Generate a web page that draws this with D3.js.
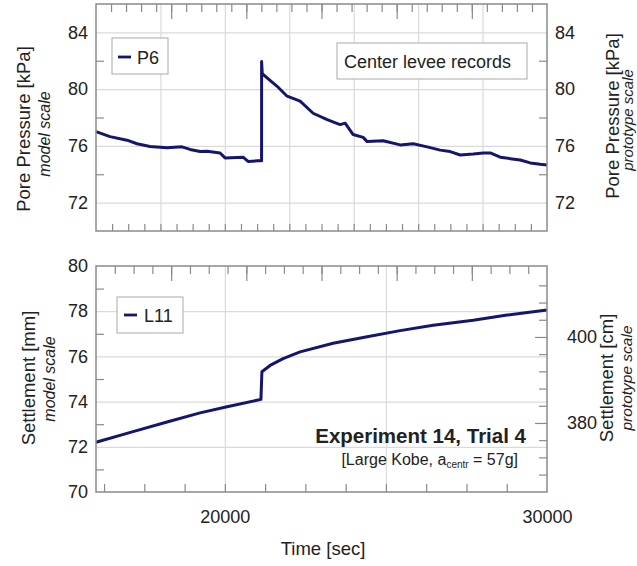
<!DOCTYPE html>
<html>
<head>
<meta charset="utf-8">
<script src="https://cdn.jsdelivr.net/npm/d3@7"></script>
<style>
  body { margin: 0; background: white; }
  text { font-family: "Liberation Sans", Arial, sans-serif; fill: #222; }
</style>
</head>
<body>
<svg id="vis"></svg>
<script>
// data
const P6_TIME = [16000, 16435, 16963, 17273, 17677, 18205, 18671, 18920, 19230, 19448, 19851, 20007,
    20566, 20721, 21032, 21140, 21141, 21160, 21311, 21622, 21933, 22336, 22740, 23175, 23578,
    23734, 23982, 24293, 24417, 24914, 25442, 25846, 26281, 26685, 26995, 27306, 27710, 28020,
    28238, 28548, 28859, 29169, 29480, 29790, 30000]
const P6_KPA = [77.0, 76.65, 76.4, 76.15, 75.95, 75.87, 75.93, 75.75, 75.6, 75.62, 75.5, 75.15,
    75.2, 74.9, 74.95, 74.95, 81.95, 81.1, 80.8, 80.2, 79.5, 79.15, 78.3, 77.85, 77.5,
    77.6, 76.8, 76.6, 76.3, 76.36, 76.07, 76.15, 75.93, 75.7, 75.6, 75.36, 75.43, 75.5,
    75.5, 75.2, 75.1, 75.0, 74.8, 74.7, 74.65]

const L11_TIME = [16000, 17150, 18205, 19230, 20069, 21120, 21150, 21404, 21808, 22336, 23361,
    24417, 25442, 26467, 27710, 28766, 30000]
const L11_MM = [72.2, 72.67, 73.1, 73.5, 73.77, 74.1, 75.32, 75.6, 75.9, 76.2, 76.58,
    76.87, 77.14, 77.38, 77.6, 77.83, 78.05]

const PORE_TICKS = [72, 76, 80, 84]
const PORE_MINOR = [74, 78, 82]
const SETTLE_TICKS = [70, 72, 74, 76, 78, 80]
const SETTLE_MINOR = [71, 73, 75, 77, 79]
const PROTO_TICKS = [380, 400]
const PROTO_MINOR = [368, 372, 376, 384, 388, 392, 396, 404, 408, 412]
const TIME_LABELS = [20000, 30000]

// layout
const W = 637
const H = 566
const LEFT = 96
const RIGHT = 547
const TOP1 = 4, BOT1 = 231
const TOP2 = 266, BOT2 = 492
const FRAME = '#8a8a8a'
const GRID = '#dadada'
const LINE = '#15156e'

var svg = d3.select('#vis')
    .attr('width', W)
    .attr('height', H)

var x = d3.scaleLinear().domain([16000, 30000]).range([LEFT, RIGHT])
// secondary time axis on top edges (ticks only)
var xTop = d3.scaleLinear().domain([0, 30]).range([LEFT, RIGHT])

var yPore = d3.scaleLinear().domain([70, 86]).range([BOT1, TOP1])
var ySettle = d3.scaleLinear().domain([70, 80]).range([BOT2, TOP2])
var yProto = d3.scaleLinear().domain([363.95, 416.5]).range([BOT2, TOP2])

// draw an axis group and style it
function drawAxis(axis, tx, ty, color) {
    var g = svg.append('g')
        .attr('transform', `translate(${tx},${ty})`)
        .call(axis)
    g.select('.domain').remove()
    g.selectAll('line').attr('stroke', color || FRAME).attr('stroke-width', 1.2)
    g.selectAll('text')
        .style('font-family', '"Liberation Sans", Arial, sans-serif')
        .style('font-size', '18px')
        .attr('fill', '#222')
    return g
}

// ---------- top panel ----------
drawAxis(d3.axisLeft(yPore).tickValues(PORE_TICKS).tickSize(-(RIGHT - LEFT)).tickFormat(''), LEFT, 0, GRID)
drawAxis(d3.axisBottom(x).tickValues(d3.range(18000, 30000, 2000)).tickSize(-(BOT1 - TOP1)).tickFormat(''), 0, BOT1, GRID)

drawAxis(d3.axisLeft(yPore).tickValues(PORE_MINOR).tickSize(-8).tickFormat(''), LEFT, 0)
drawAxis(d3.axisRight(yPore).tickValues(PORE_MINOR).tickSize(-8).tickFormat(''), RIGHT, 0)
drawAxis(d3.axisLeft(yPore).tickValues(PORE_TICKS).tickSize(0).tickPadding(8).tickFormat(d3.format('d')), LEFT, 0)
drawAxis(d3.axisRight(yPore).tickValues(PORE_TICKS).tickSize(0).tickPadding(8).tickFormat(d3.format('d')), RIGHT, 0)

drawAxis(d3.axisTop(xTop).tickValues(d3.range(1, 30, 1)).tickSize(-8).tickFormat(''), 0, TOP1)
drawAxis(d3.axisTop(xTop).tickValues(d3.range(5, 30, 5)).tickSize(-15).tickFormat(''), 0, TOP1)
drawAxis(d3.axisBottom(x).tickValues(d3.range(16500, 30000, 500)).tickSize(-7).tickFormat(''), 0, BOT1)

svg.append('path')
    .datum(P6_TIME.map((t, i) => [t, P6_KPA[i]]))
    .attr('fill', 'none')
    .attr('stroke', LINE)
    .attr('stroke-width', 3)
    .attr('stroke-linejoin', 'round')
    .attr('d', d3.line().x(d => x(d[0])).y(d => yPore(d[1])))

svg.append('rect')
    .attr('x', LEFT).attr('y', TOP1)
    .attr('width', RIGHT - LEFT).attr('height', BOT1 - TOP1)
    .attr('fill', 'none').attr('stroke', FRAME).attr('stroke-width', 1.5)

// legend P6
svg.append('rect').attr('x', 112).attr('y', 38).attr('width', 56).attr('height', 36)
    .attr('fill', 'white').attr('stroke', '#aaa')
svg.append('line').attr('x1', 118).attr('x2', 131).attr('y1', 57).attr('y2', 57)
    .attr('stroke', LINE).attr('stroke-width', 2.8)
svg.append('text').attr('x', 137).attr('y', 63.5).style('font-size', '18px').text('P6')

// title box
svg.append('rect').attr('x', 337).attr('y', 43).attr('width', 190).attr('height', 36)
    .attr('fill', 'white').attr('stroke', '#aaa')
svg.append('text').attr('x', 344).attr('y', 68).style('font-size', '18px').text('Center levee records')

// ---------- bottom panel ----------
drawAxis(d3.axisLeft(ySettle).tickValues([72, 74, 76, 78]).tickSize(-(RIGHT - LEFT)).tickFormat(''), LEFT, 0, GRID)
drawAxis(d3.axisBottom(x).tickValues([20000, 25000]).tickSize(-(BOT2 - TOP2)).tickFormat(''), 0, BOT2, GRID)

drawAxis(d3.axisLeft(ySettle).tickValues(SETTLE_MINOR).tickSize(-8).tickFormat(''), LEFT, 0)
drawAxis(d3.axisLeft(ySettle).tickValues(SETTLE_TICKS).tickSize(0).tickPadding(8).tickFormat(d3.format('d')), LEFT, 0)
drawAxis(d3.axisRight(yProto).tickValues(PROTO_MINOR).tickSize(-8).tickFormat(''), RIGHT, 0)
drawAxis(d3.axisRight(yProto).tickValues(PROTO_TICKS).tickSize(-12).tickPadding(20).tickFormat(d3.format('d')), RIGHT, 0)

drawAxis(d3.axisTop(xTop).tickValues(d3.range(1.25, 30, 1.25)).tickSize(-8).tickFormat(''), 0, TOP2)
drawAxis(d3.axisTop(xTop).tickValues(d3.range(5, 30, 5)).tickSize(-15).tickFormat(''), 0, TOP2)
drawAxis(d3.axisBottom(x).tickValues(d3.range(16250, 30000, 1250)).tickSize(-8).tickFormat(''), 0, BOT2)
drawAxis(d3.axisBottom(x).tickValues(TIME_LABELS).tickSize(0).tickPadding(18).tickFormat(d3.format('d')), 0, BOT2)

svg.append('path')
    .datum(L11_TIME.map((t, i) => [t, L11_MM[i]]))
    .attr('fill', 'none')
    .attr('stroke', LINE)
    .attr('stroke-width', 3)
    .attr('stroke-linejoin', 'round')
    .attr('d', d3.line().x(d => x(d[0])).y(d => ySettle(d[1])))

svg.append('rect')
    .attr('x', LEFT).attr('y', TOP2)
    .attr('width', RIGHT - LEFT).attr('height', BOT2 - TOP2)
    .attr('fill', 'none').attr('stroke', FRAME).attr('stroke-width', 1.5)

// legend L11
svg.append('rect').attr('x', 117).attr('y', 297).attr('width', 66).attr('height', 36)
    .attr('fill', 'white').attr('stroke', '#aaa')
svg.append('line').attr('x1', 124).attr('x2', 137).attr('y1', 315).attr('y2', 315)
    .attr('stroke', LINE).attr('stroke-width', 2.8)
svg.append('text').attr('x', 144).attr('y', 321.5).style('font-size', '18px').text('L11')

// experiment annotation
svg.append('text').attr('x', 526).attr('y', 443).attr('text-anchor', 'end')
    .style('font-size', '20.5px').style('font-weight', 'bold').attr('fill', '#111')
    .text('Experiment 14, Trial 4')
var sub = svg.append('text').attr('x', 518).attr('y', 465).attr('text-anchor', 'end')
    .style('font-size', '16px')
sub.append('tspan').text('[Large Kobe, a')
sub.append('tspan').attr('dy', 3).style('font-size', '10px').text('centr')
sub.append('tspan').attr('dy', -3).text(' = 57g]')

// ---------- axis titles ----------
function vTitle(tx, ty, txt, size, italic) {
    svg.append('text')
        .attr('transform', `translate(${tx},${ty}) rotate(-90)`)
        .attr('text-anchor', 'middle')
        .style('font-size', size + 'px')
        .style('font-style', italic ? 'italic' : 'normal')
        .text(txt)
}
vTitle(30, 129, 'Pore Pressure [kPa]', 18.5, false)
vTitle(50, 134, 'model scale', 16, true)
vTitle(619, 116, 'Pore Pressure [kPa]', 18.5, false)
vTitle(633, 120, 'prototype scale', 15, true)
vTitle(35, 378, 'Settlement [mm]', 18.5, false)
vTitle(55, 379, 'model scale', 16, true)
vTitle(613, 378, 'Settlement [cm]', 18.5, false)
vTitle(632, 378, 'prototype scale', 15.5, true)

svg.append('text').attr('x', 323).attr('y', 555).attr('text-anchor', 'middle')
    .style('font-size', '18.5px').text('Time [sec]')
</script>
</body>
</html>
